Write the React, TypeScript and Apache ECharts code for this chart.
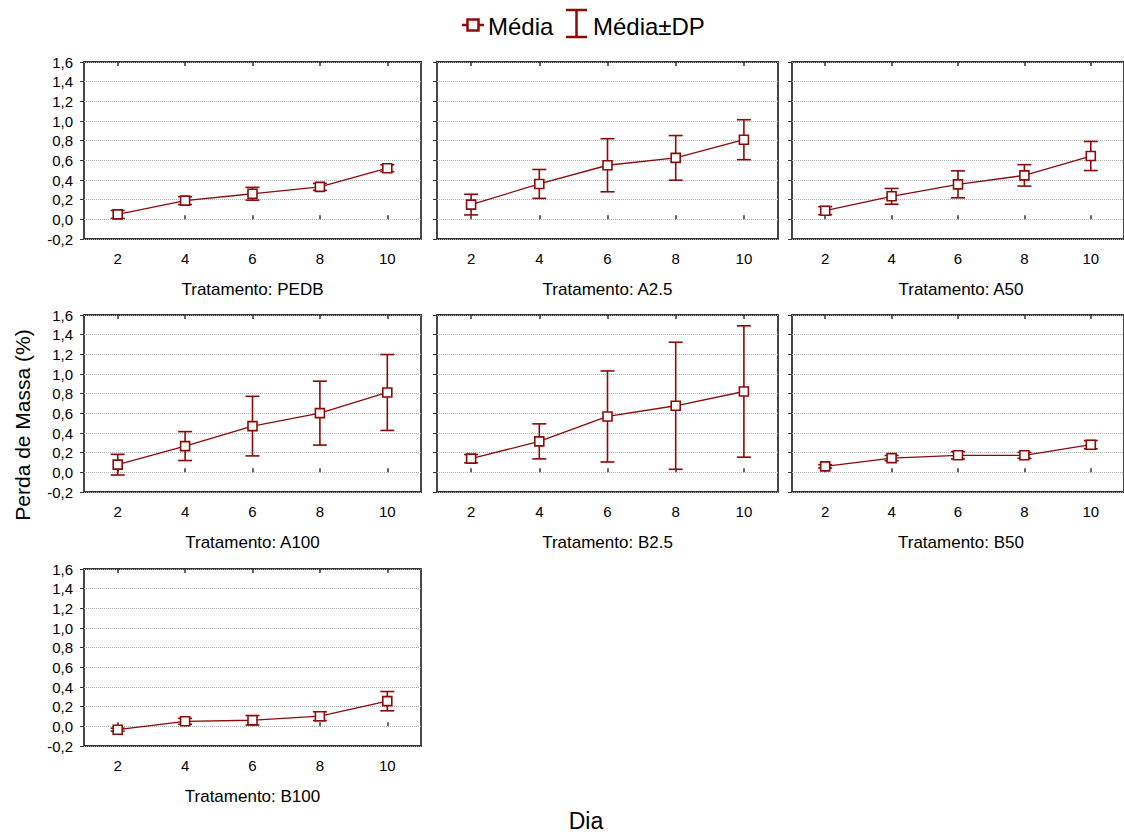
import React, { useEffect, useRef } from "react";
import * as echarts from "echarts";

const days = [2, 4, 6, 8, 10];
const treatments = ["PEDB", "A2.5", "A50", "A100", "B2.5", "B50", "B100"];

const meanPEDB = [0.05, 0.19, 0.26, 0.33, 0.52];
const sdPEDB = [0.04, 0.04, 0.065, 0.035, 0.035];
const meanA25 = [0.15, 0.36, 0.55, 0.625, 0.81];
const sdA25 = [0.105, 0.147, 0.27, 0.227, 0.203];
const meanA50 = [0.088, 0.234, 0.356, 0.447, 0.644];
const sdA50 = [0.041, 0.08, 0.137, 0.109, 0.148];
const meanA100 = [0.078, 0.267, 0.47, 0.602, 0.812];
const sdA100 = [0.105, 0.147, 0.303, 0.325, 0.386];
const meanB25 = [0.139, 0.315, 0.568, 0.677, 0.822];
const sdB25 = [0.042, 0.178, 0.463, 0.646, 0.668];
const meanB50 = [0.061, 0.145, 0.173, 0.173, 0.281];
const sdB50 = [0.017, 0.027, 0.037, 0.03, 0.042];
const meanB100 = [-0.034, 0.051, 0.062, 0.103, 0.256];
const sdB100 = [0.015, 0.03, 0.048, 0.045, 0.098];

const means = [meanPEDB, meanA25, meanA50, meanA100, meanB25, meanB50, meanB100];
const sds = [sdPEDB, sdA25, sdA50, sdA100, sdB25, sdB50, sdB100];

const RED = "#8b0a0a";
const FONT = "'Liberation Sans', Arial, sans-serif";
const colLeft = [84, 437, 792];
const colWidth = [337, 341, 338];
const rowTop = [62, 315, 569];
const H = 177;

export default function App() {
  const ref = useRef<HTMLDivElement>(null);
  useEffect(() => {
    if (!ref.current) return;
    const chart = echarts.init(ref.current, undefined, { renderer: "svg" });
    const grids: any[] = [];
    const xAxes: any[] = [];
    const yAxes: any[] = [];
    const series: any[] = [];
    const graphics: any[] = [];

    treatments.forEach((t, i) => {
      const r = Math.floor(i / 3);
      const c = i % 3;
      const left = colLeft[c];
      const width = colWidth[c];
      const top = rowTop[r];
      grids.push({
        left, top, width, height: H,
        show: true, borderColor: "#333333", borderWidth: 1.8, backgroundColor: "transparent",
        containLabel: false,
      });
      xAxes.push({
        type: "value", gridIndex: i, min: 1, max: 11, position: "bottom",
        axisLine: { show: false },
        axisTick: { show: true, inside: true, length: 4, customValues: days, lineStyle: { color: "#333", width: 1.5 } },
        axisLabel: { show: true, customValues: days, margin: 12, fontSize: 15, color: "#000", fontFamily: FONT },
        splitLine: { show: false },
      });
      xAxes.push({
        type: "value", gridIndex: i, min: 1, max: 11, position: "top",
        axisLine: { show: false },
        axisTick: { show: true, inside: true, length: 4, customValues: days, lineStyle: { color: "#333", width: 1.5 } },
        axisLabel: { show: false },
        splitLine: { show: false },
      });
      yAxes.push({
        type: "value", gridIndex: i, min: -0.2, max: 1.6, interval: 0.2,
        axisLine: { show: false },
        axisTick: { show: true, inside: false, length: 4, lineStyle: { color: "#333", width: 1 } },
        axisLabel: {
          show: c === 0, margin: 11, fontSize: 15, color: "#000", fontFamily: FONT,
          formatter: (v: number) => v.toFixed(1).replace(".", ","),
        },
        splitLine: { show: true, lineStyle: { color: "#b0b0b0", type: "dotted", width: 1 } },
      });
      const m = means[i];
      const s = sds[i];
      series.push({
        type: "custom",
        name: "Média±DP",
        xAxisIndex: 2 * i,
        yAxisIndex: i,
        z: 2,
        data: days.map((d, k) => [d, m[k] - s[k], m[k] + s[k]]),
        renderItem: (params: any, api: any) => {
          const x = api.value(0);
          const lo = api.coord([x, api.value(1)]);
          const hi = api.coord([x, api.value(2)]);
          const w = 7;
          const st = { stroke: RED, lineWidth: 1.6, fill: "none" };
          return {
            type: "group",
            children: [
              { type: "line", shape: { x1: lo[0], y1: lo[1], x2: hi[0], y2: hi[1] }, style: st },
              { type: "line", shape: { x1: lo[0] - w, y1: lo[1], x2: lo[0] + w, y2: lo[1] }, style: st },
              { type: "line", shape: { x1: hi[0] - w, y1: hi[1], x2: hi[0] + w, y2: hi[1] }, style: st },
            ],
          };
        },
      });
      series.push({
        type: "line",
        name: "Média",
        xAxisIndex: 2 * i,
        yAxisIndex: i,
        z: 3,
        data: days.map((d, k) => [d, m[k]]),
        symbol: "rect",
        symbolSize: 9,
        showSymbol: true,
        lineStyle: { color: RED, width: 1.3 },
        itemStyle: { color: "#ffffff", borderColor: RED, borderWidth: 1.6 },
      });
      graphics.push({
        type: "text",
        x: left + width / 2,
        y: top + H + 50,
        style: {
          text: "Tratamento: " + t,
          fontSize: 17, fontFamily: FONT, fill: "#000",
          align: "center", verticalAlign: "middle",
        },
      });
    });

    // legend
    graphics.push(
      { type: "line", shape: { x1: 462, y1: 25, x2: 484, y2: 25 }, style: { stroke: RED, lineWidth: 2.5 } },
      { type: "rect", shape: { x: 467.5, y: 19.5, width: 11, height: 11 }, style: { fill: "#fff", stroke: RED, lineWidth: 2.5 } },
      { type: "text", x: 488, y: 26, style: { text: "Média", fontSize: 24, fontFamily: FONT, fill: "#000", align: "left", verticalAlign: "middle" } },
      { type: "line", shape: { x1: 576.5, y1: 10, x2: 576.5, y2: 37 }, style: { stroke: RED, lineWidth: 2.5 } },
      { type: "line", shape: { x1: 566, y1: 10, x2: 587, y2: 10 }, style: { stroke: RED, lineWidth: 2.5 } },
      { type: "line", shape: { x1: 566, y1: 37, x2: 587, y2: 37 }, style: { stroke: RED, lineWidth: 2.5 } },
      { type: "text", x: 593, y: 26, style: { text: "Média±DP", fontSize: 24, fontFamily: FONT, fill: "#000", align: "left", verticalAlign: "middle" } },
      { type: "text", x: 586, y: 821, style: { text: "Dia", fontSize: 23, fontFamily: FONT, fill: "#000", align: "center", verticalAlign: "middle" } },
      { type: "text", x: 22, y: 425, rotation: Math.PI / 2, style: { text: "Perda de Massa (%)", fontSize: 21, fontFamily: FONT, fill: "#000", align: "center", verticalAlign: "middle" } },
    );

    chart.setOption({
      animation: false,
      backgroundColor: "#ffffff",
      textStyle: { fontFamily: FONT },
      grid: grids,
      xAxis: xAxes,
      yAxis: yAxes,
      series,
      graphic: graphics,
    });
    return () => chart.dispose();
  }, []);
  return <div ref={ref} style={{ position: "absolute", left: 0, top: 0, width: 1124, height: 834 }} />;
}
